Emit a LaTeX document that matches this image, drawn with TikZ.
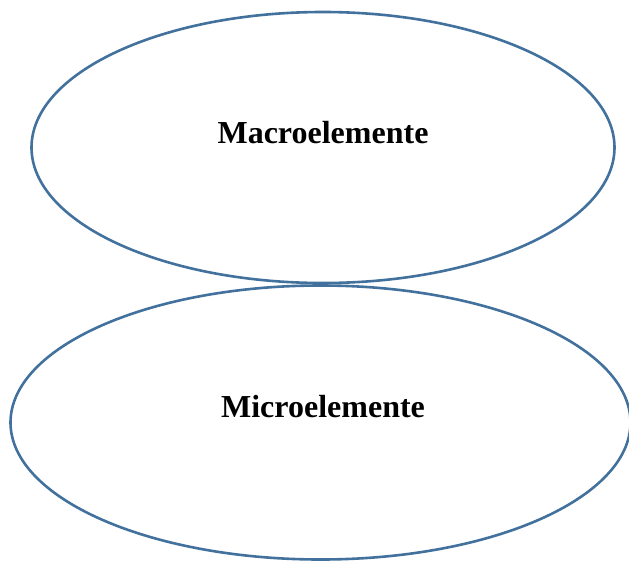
\documentclass[tikz,border=0pt]{standalone}
\usepackage{fontspec}
\setmainfont{Liberation Serif}
\usetikzlibrary{shapes.geometric}
\definecolor{edgeblue}{HTML}{41719C}
\begin{document}
\begin{tikzpicture}[x=1pt,y=-1pt,
  oval/.style={draw=edgeblue,line width=2.6pt},
  lbl/.style={font=\fontsize{32}{38}\selectfont\bfseries,inner sep=0pt}]
\useasboundingbox (0,0) rectangle (629,560);
\draw[oval] (323,147.5) ellipse [x radius=291.5,y radius=135.5];
\draw[oval] (320.5,422.5) ellipse [x radius=310,y radius=137];
\node[lbl,anchor=base] (macro) at (323,143) {Macroelemente};
\node[lbl,anchor=base] (micro) at (323,417) {Microelemente};
\end{tikzpicture}
\end{document}
